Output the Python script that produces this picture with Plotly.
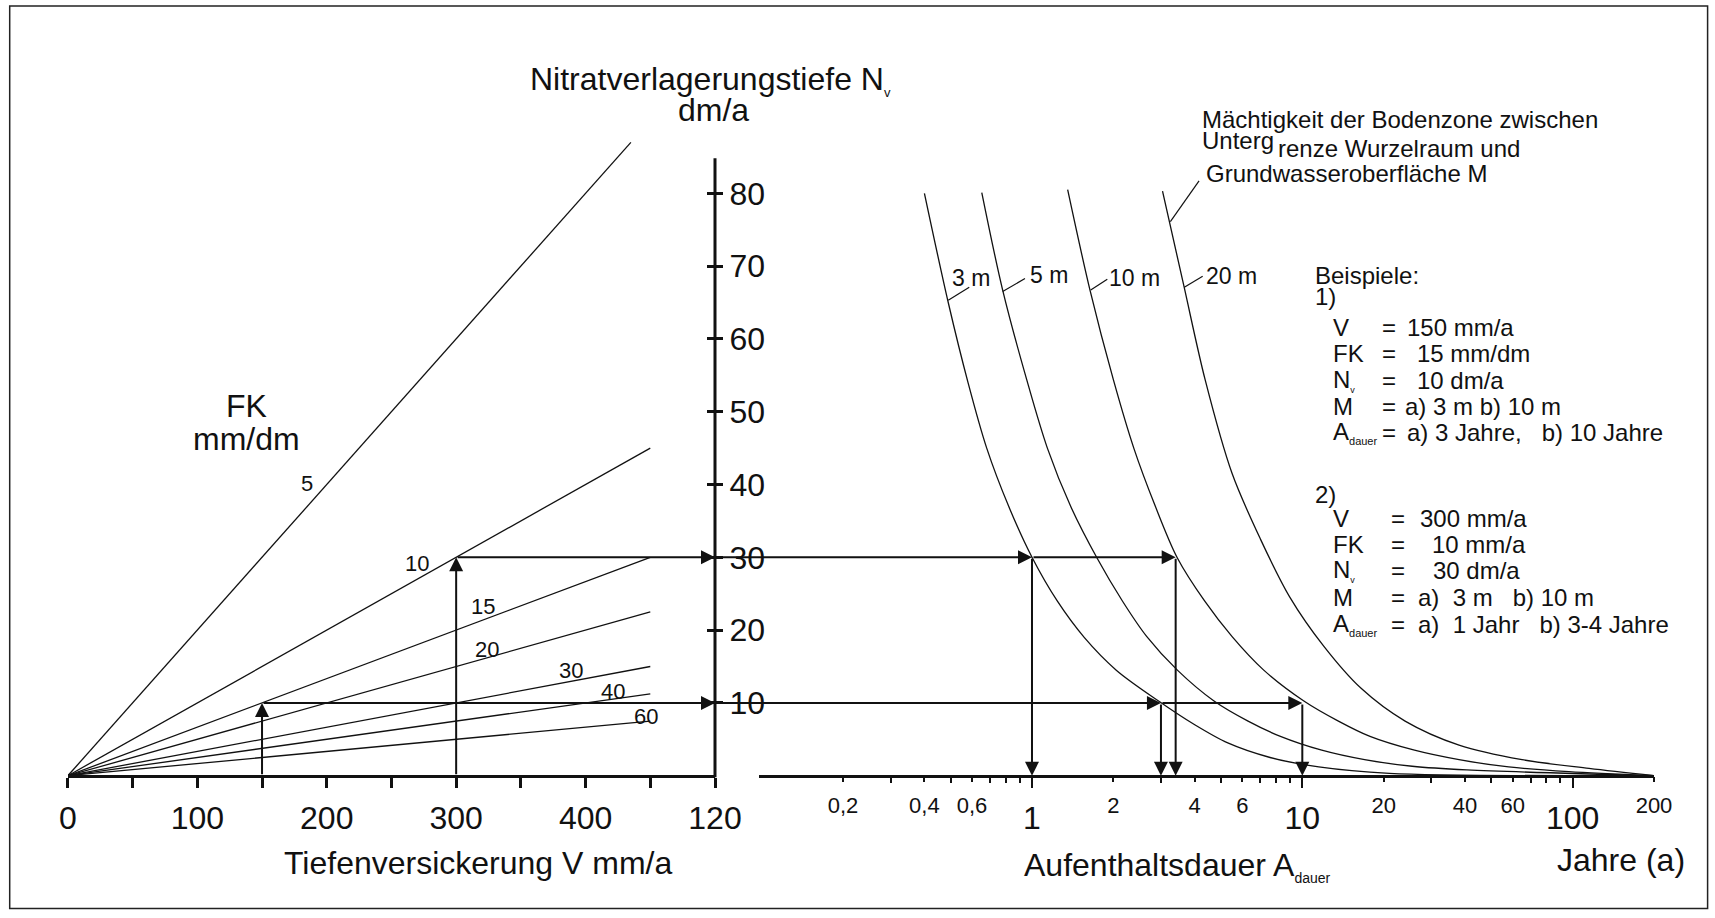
import numpy as np
import plotly.graph_objects as go

W, H = 1715, 918
FONT = "Liberation Sans, Arial, Helvetica, sans-serif"
INK = "#111111"

# ---------------- data ----------------
# field capacity FK (mm/dm) and the seepage rate V (mm/a) where each ray stops
FK_VALUES = [5, 10, 15, 20, 30, 40, 60]
FK_V_END = [435, 450, 450, 450, 450, 450, 450]

V_TICKS = [0, 50, 100, 150, 200, 250, 300, 350, 400, 450, 500]
V_TICKTEXT = ["0", "", "100", "", "200", "", "300", "", "400", "", "120"]

NV_TICKS = [10, 20, 30, 40, 50, 60, 70, 80]
NV_AXIS_TOP = 84.8

A_MAJOR = [1, 10, 100]
A_MAJOR_TEXT = ["1", "10", "100"]
A_SMALL = [0.2, 0.4, 0.6, 2, 4, 6, 20, 40, 60, 200]
A_SMALL_TEXT = ["0,2", "0,4", "0,6", "2", "4", "6", "20", "40", "60", "200"]
A_MINOR = [0.3, 0.5, 0.7, 0.8, 0.9, 3, 5, 7, 8, 9, 30, 50, 70, 80, 90]

# residence time A (years) against Nv (dm/a) for each thickness M
M_LABELS = ["3 m", "5 m", "10 m", "20 m"]
A_3M = [0.40, 0.49, 0.58, 0.68, 0.82, 1.0, 1.24, 1.56, 2.05, 2.93, 4.0, 5.3, 7.6, 11.5, 21.0, 200]
NV_3M = [80.0, 65.0, 54.0, 45.0, 37.0, 30.0, 24.0, 19.0, 14.5, 10.3, 7.0, 4.5, 2.5, 1.2, 0.33, 0]
A_5M = [0.652, 0.779, 0.956, 1.14, 1.39, 1.74, 2.16, 2.66, 3.45, 4.7, 6.3, 8.3, 11.8, 17.0, 25.5, 40.6, 200]
NV_5M = [80.1, 66.7, 54.4, 45.0, 37.0, 29.9, 24.0, 19.1, 14.5, 10.3, 7.5, 5.4, 3.5, 2.2, 1.3, 0.8, 0]
A_10M = [1.355, 1.639, 2.0, 2.38, 2.86, 3.45, 4.35, 5.5, 7.2, 10.1, 13.6, 17.8, 26.0, 38.0, 58.0, 96.8, 200]
NV_10M = [80.5, 66.7, 54.4, 45.0, 37.0, 29.9, 24.0, 19.1, 14.5, 10.3, 7.5, 5.4, 3.5, 2.2, 1.2, 0.55, 0]
A_20M = [3.04, 3.65, 4.37, 5.5, 7.0, 9.0, 12.0, 16.5, 24.0, 38.0, 65.0, 115.0, 200]
NV_20M = [80.3, 67.2, 54.4, 41.5, 32.5, 24.5, 17.8, 12.0, 7.5, 4.2, 2.2, 1.0, 0]

# worked examples: V (mm/a), FK (mm/dm), residence times for a) 3 m and b) 10 m
EX_V = [150, 300]
EX_FK = [15, 10]
EX_A = [[3, 10], [1, 3.4]]

# ---------------- geometry ----------------
Y0_PX, PX_PER_NV = 775.7, 7.28          # Nv = 0 baseline and vertical scale
X1_PX0, X1_PX1 = 67.9, 715.0            # linear V axis, 0 .. 500
X2_PX0, X2_PX1 = 758.7, 1654.0          # log A axis
X2_RANGE = [np.log10(0.0975), np.log10(200)]


def fx(px):
    return px / W


def fy(py):
    return 1 - py / H


def nv_px(nv):
    return Y0_PX - PX_PER_NV * nv


Y_RANGE = [(Y0_PX - H) / PX_PER_NV, Y0_PX / PX_PER_NV]
AXIS_POS = fy(Y0_PX)
# Nv axis expressed in log-A units (for arrows that start on it)
LG_AT_NV_AXIS = X2_RANGE[0] - (X2_PX0 - X1_PX1) / (X2_PX1 - X2_PX0) * (X2_RANGE[1] - X2_RANGE[0])

fig = go.Figure()

# FK rays through the origin
for fk, v_end in zip(FK_VALUES, FK_V_END):
    fig.add_trace(go.Scatter(x=[0, v_end], y=[0, v_end / fk], mode="lines",
                             line=dict(color=INK, width=1.3), hoverinfo="skip",
                             xaxis="x", yaxis="y"))

# residence time curves
for a_vals, nv_vals in [(A_3M, NV_3M), (A_5M, NV_5M), (A_10M, NV_10M), (A_20M, NV_20M)]:
    fig.add_trace(go.Scatter(x=a_vals, y=nv_vals, mode="lines",
                             line=dict(color=INK, width=1.3, shape="spline", smoothing=0.9),
                             hoverinfo="skip", xaxis="x2", yaxis="y"))

# short leader strokes from the curves to their labels
LEADERS = [((0.490, 65.3), (0.586, 67.1)),
           ((0.779, 66.5), (0.942, 68.3)),
           ((1.649, 66.7), (1.899, 68.2)),
           ((3.66, 67.1), (4.28, 68.6)),
           ((3.25, 76.1), (4.15, 81.7))]
for (a0, n0), (a1, n1) in LEADERS:
    fig.add_trace(go.Scatter(x=[a0, a1], y=[n0, n1], mode="lines",
                             line=dict(color=INK, width=1.2), hoverinfo="skip",
                             xaxis="x2", yaxis="y"))

# helper traces so the overlay axes are drawn
fig.add_trace(go.Scatter(x=[1], y=[0], mode="markers", marker=dict(opacity=0),
                         hoverinfo="skip", xaxis="x3", yaxis="y"))
fig.add_trace(go.Scatter(x=[0], y=[0], mode="markers", marker=dict(opacity=0),
                         hoverinfo="skip", xaxis="x", yaxis="y2"))

annotations = []


def arrow(xh, yh, xt, yt, xref):
    return dict(x=xh, y=yh, ax=xt, ay=yt, xref=xref, yref="y", axref=xref, ayref="y",
                text="", showarrow=True, arrowhead=2, arrowsize=1.4, arrowwidth=2,
                arrowcolor=INK)


for v, fk, (a_a, a_b) in zip(EX_V, EX_FK, EX_A):
    nv = v / fk
    annotations.append(arrow(v, nv, v, 0, "x"))
    annotations.append(arrow(500, nv, v, nv, "x"))
    annotations.append(arrow(np.log10(a_a), nv, LG_AT_NV_AXIS, nv, "x2"))
    annotations.append(arrow(np.log10(a_b), nv, np.log10(a_a), nv, "x2"))
    annotations.append(arrow(np.log10(a_a), 0, np.log10(a_a), nv, "x2"))
    annotations.append(arrow(np.log10(a_b), 0, np.log10(a_b), nv, "x2"))

# FK ray labels
FK_LABEL_POS = {5: (185, 40.2), 10: (269.5, 29.1), 15: (321, 23.2), 20: (324, 17.3),
                30: (388.7, 14.4), 40: (421.3, 11.6), 60: (446.8, 8.2)}
for fk in FK_VALUES:
    lx, ly = FK_LABEL_POS[fk]
    annotations.append(dict(x=lx, y=ly, xref="x", yref="y", text=str(fk), showarrow=False,
                            font=dict(size=22, color=INK, family=FONT)))


def label(text, px, py, size=24, xanchor="left", yanchor="middle"):
    return dict(x=fx(px), y=fy(py), xref="paper", yref="paper", text=text,
                showarrow=False, xanchor=xanchor, yanchor=yanchor,
                font=dict(size=size, color=INK, family=FONT))


SUB_V = "<sub><span style='font-size:9px'>v</span></sub>"
SUB_V_BIG = "<sub><span style='font-size:13px'>v</span></sub>"
SUB_D = "<sub><span style='font-size:11px'>dauer</span></sub>"
SUB_D_BIG = "<sub><span style='font-size:14px'>dauer</span></sub>"

annotations += [
    label("Nitratverlagerungstiefe N" + SUB_V_BIG, 528, 80, 32),
    label("dm/a", 713, 110, 32, xanchor="center"),
    label("FK", 246, 406, 32, xanchor="center"),
    label("mm/dm", 246, 439, 32, xanchor="center"),
    label("Tiefenversickerung V mm/a", 478, 863, 32, xanchor="center"),
    label("Aufenthaltsdauer A" + SUB_D_BIG, 1022, 866, 32),
    label("Jahre (a)", 1555, 860, 32),
    label("Mächtigkeit der Bodenzone zwischen", 1200, 119.5),
    label("Unterg", 1200, 140.5),
    label("renze Wurzelraum und", 1276, 148.5),
    label("Grundwasseroberfläche M", 1204, 173.3),
]

for text, cx, cy in zip(M_LABELS, [970.5, 1048.7, 1134, 1231.7], [278, 275, 278, 276]):
    annotations.append(label(text, cx, cy, 23, xanchor="center"))

NB = "\u00a0"
annotations += [
    label("Beispiele:", 1313, 275),
    label("1)", 1313, 297),
]
block1 = [("V", "150 mm/a", 1405, 327),
          ("FK", "15 mm/dm", 1415, 353),
          ("N" + SUB_V, "10 dm/a", 1415, 380),
          ("M", "a) 3 m b) 10 m", 1403, 406),
          ("A" + SUB_D, "a) 3 Jahre," + NB * 3 + "b) 10 Jahre", 1405, 433)]
for name, val, vx, cy in block1:
    annotations.append(label(name, 1331, cy))
    annotations.append(label("=", 1380, cy))
    annotations.append(label(val, vx, cy))

annotations.append(label("2)", 1313, 494))
block2 = [("V", "300 mm/a", 1418, 518),
          ("FK", "10 mm/a", 1430, 544),
          ("N" + SUB_V, "30 dm/a", 1431, 570),
          ("M", "a)" + NB * 2 + "3 m" + NB * 3 + "b) 10 m", 1416, 597),
          ("A" + SUB_D, "a)" + NB * 2 + "1 Jahr" + NB * 3 + "b) 3-4 Jahre", 1416, 624)]
for name, val, vx, cy in block2:
    annotations.append(label(name, 1331, cy))
    annotations.append(label("=", 1389, cy))
    annotations.append(label(val, vx, cy))

shapes = [
    # Nv axis
    dict(type="line", xref="paper", yref="paper", x0=fx(X1_PX1), x1=fx(X1_PX1),
         y0=fy(Y0_PX + 1.5), y1=fy(nv_px(NV_AXIS_TOP)), line=dict(color=INK, width=3)),
    # outer frame
    dict(type="rect", xref="paper", yref="paper", x0=fx(9.7), x1=fx(1707.6),
         y0=fy(908.5), y1=fy(6), line=dict(color="#222222", width=1.5)),
]

tickfont_big = dict(size=32, color=INK, family=FONT)
fig.update_layout(
    template="none",
    width=W, height=H, autosize=False,
    margin=dict(l=0, r=0, t=0, b=0, pad=0),
    paper_bgcolor="white", plot_bgcolor="white",
    showlegend=False,
    font=dict(family=FONT, color=INK),
    xaxis=dict(domain=[fx(X1_PX0), fx(X1_PX1)], range=[0, 500], anchor="free",
               position=AXIS_POS, showline=True, linewidth=3, linecolor=INK,
               ticks="outside", ticklen=10, tickwidth=2.5, tickcolor=INK,
               tickvals=V_TICKS, ticktext=V_TICKTEXT, tickfont=tickfont_big,
               ticklabelstandoff=3, showgrid=False, zeroline=False, automargin=False),
    xaxis2=dict(domain=[fx(X2_PX0), fx(X2_PX1)], type="log", range=X2_RANGE,
                anchor="free", position=AXIS_POS, showline=True, linewidth=3,
                linecolor=INK, ticks="outside", ticklen=10, tickwidth=2, tickcolor=INK,
                tickvals=A_MAJOR, ticktext=A_MAJOR_TEXT, tickfont=tickfont_big,
                ticklabelstandoff=3,
                minor=dict(tickvals=A_MINOR, ticks="outside", ticklen=5, tickwidth=2,
                           tickcolor=INK, showgrid=False),
                showgrid=False, zeroline=False, automargin=False),
    xaxis3=dict(overlaying="x2", type="log", range=X2_RANGE, anchor="free",
                position=AXIS_POS, showline=False, ticks="outside", ticklen=5,
                tickwidth=2, tickcolor=INK, tickvals=A_SMALL, ticktext=A_SMALL_TEXT,
                tickfont=dict(size=22, color=INK, family=FONT), ticklabelstandoff=5,
                showgrid=False, zeroline=False, automargin=False),
    yaxis=dict(domain=[0, 1], range=Y_RANGE, anchor="free", position=fx(X1_PX1),
               side="right", showline=False, ticks="outside", ticklen=7, tickwidth=3,
               tickcolor=INK, tickvals=NV_TICKS, tickfont=tickfont_big,
               ticklabelstandoff=0, showgrid=False, zeroline=False, automargin=False),
    yaxis2=dict(overlaying="y", range=Y_RANGE, anchor="free", position=fx(X1_PX1),
                side="left", showline=False, ticks="outside", ticklen=8, tickwidth=3,
                tickcolor=INK, tickvals=NV_TICKS, showticklabels=False,
                showgrid=False, zeroline=False, automargin=False),
    annotations=annotations,
    shapes=shapes,
)

fig.write_html("out.html")
